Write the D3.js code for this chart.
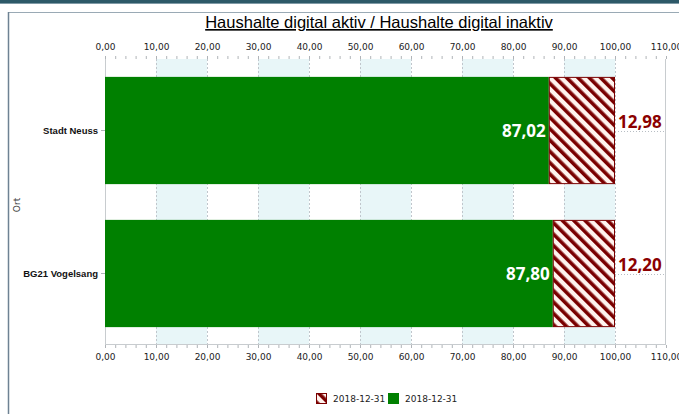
<!DOCTYPE html>
<html>
<head>
<meta charset="utf-8">
<script src="https://cdn.jsdelivr.net/npm/d3@7"></script>
<style>
	body { margin: 0; background: #ffffff; }
	svg { display: block; }
</style>
</head>
<body>
<svg id="chart" width="679" height="414"></svg>
<script>
// Chart data
var categories = ["Stadt Neuss", "BG21 Vogelsang"];
var aktiv = [87.02, 87.80];
var inaktiv = [12.98, 12.20];
var legend_labels = ["2018-12-31", "2018-12-31"];
var x_ticks = [0, 10, 20, 30, 40, 50, 60, 70, 80, 90, 100, 110];

var WIDTH = 679, HEIGHT = 414;
var margin = {left: 105, right: 13, top: 59, bottom: 69};
var GREEN = "#008000";
var DARK_RED = "#7a0000";

var svg = d3.select("#chart");

// Frame around the chart window
svg.append("rect").attr("x", 0).attr("y", 0).attr("width", WIDTH).attr("height", 3).attr("fill", "#2d5968");
svg.append("rect").attr("x", 0).attr("y", 3).attr("width", WIDTH).attr("height", 1).attr("fill", "#7f9aa6");
svg.append("line").attr("x1", 8).attr("x2", WIDTH).attr("y1", 12.5).attr("y2", 12.5)
	.attr("stroke", "#9aaab5").attr("stroke-width", 1);
svg.append("line").attr("x1", 8.5).attr("x2", 8.5).attr("y1", 12).attr("y2", HEIGHT)
	.attr("stroke", "#6e8293").attr("stroke-width", 1.5);

// Hatch pattern for the inactive series (stripes running top-left to bottom-right)
var defs = svg.append("defs");
var pat = defs.append("pattern")
	.attr("id", "hatch")
	.attr("patternUnits", "userSpaceOnUse")
	.attr("width", 8).attr("height", 8)
	.attr("patternTransform", "rotate(-45)");
pat.append("rect").attr("width", 8).attr("height", 8).attr("fill", "#fff3ee");
pat.append("rect").attr("x", 0).attr("y", 0).attr("width", 3.6).attr("height", 8).attr("fill", DARK_RED);

var x = d3.scaleLinear().domain([0, 110]).range([margin.left, WIDTH - margin.right]);
var y = d3.scaleBand().domain(categories).range([margin.top, HEIGHT - margin.bottom]).paddingInner(0.25).paddingOuter(0.125);

var plot_top = margin.top, plot_bottom = HEIGHT - margin.bottom;

// Alternating background bands
var bands = d3.range(10, 100, 20);
svg.append("g").selectAll("rect").data(bands).enter().append("rect")
	.attr("x", function(d) { return x(d); })
	.attr("width", function(d) { return x(d + 10) - x(d); })
	.attr("y", plot_top).attr("height", plot_bottom - plot_top)
	.attr("fill", "#e8f6f8");

// Vertical grid lines
svg.append("g").selectAll("line").data(x_ticks.slice(1, -1)).enter().append("line")
	.attr("x1", function(d) { return Math.round(x(d)) + 0.5; })
	.attr("x2", function(d) { return Math.round(x(d)) + 0.5; })
	.attr("y1", plot_top).attr("y2", plot_bottom)
	.attr("stroke", "#c0c6cc").attr("stroke-dasharray", "2,2");

// Horizontal dotted lines at category centers
svg.append("g").selectAll("line").data(categories).enter().append("line")
	.attr("x1", x(0)).attr("x2", x(110))
	.attr("y1", function(d) { return Math.round(y(d) + y.bandwidth() / 2) + 0.5; })
	.attr("y2", function(d) { return Math.round(y(d) + y.bandwidth() / 2) + 0.5; })
	.attr("stroke", "#b8bec4").attr("stroke-dasharray", "1,2");

// Plot border lines
svg.append("line").attr("x1", Math.round(x(0)) + 0.5).attr("x2", Math.round(x(0)) + 0.5)
	.attr("y1", plot_top).attr("y2", plot_bottom).attr("stroke", "#c8cccf");
svg.append("line").attr("x1", Math.round(x(110)) - 0.5).attr("x2", Math.round(x(110)) - 0.5)
	.attr("y1", plot_top).attr("y2", plot_bottom).attr("stroke", "#c8cccf");
svg.append("line").attr("x1", x(0)).attr("x2", x(110))
	.attr("y1", plot_bottom - 0.5).attr("y2", plot_bottom - 0.5).attr("stroke", "#c8cccf");

// Axes
function style_axis(g)
{
	g.select(".domain").remove();
	g.selectAll("text").attr("font-family", "DejaVu Sans, Verdana, sans-serif").attr("font-size", "9px").attr("fill", "#222");
	g.selectAll("line").attr("stroke", "#b0b4b8");
}
var fmt = function(d) { return d3.format(".2f")(d).replace(".", ","); };
var minor = d3.range(0, 110.1, 2);

svg.append("g").attr("transform", "translate(0," + plot_top + ")")
	.call(d3.axisTop(x).tickValues(minor).tickSize(3).tickFormat(""))
	.call(style_axis);
svg.append("g").attr("transform", "translate(0," + plot_top + ")")
	.call(d3.axisTop(x).tickValues(x_ticks).tickSize(3).tickPadding(6).tickFormat(fmt))
	.call(style_axis);
svg.append("g").attr("transform", "translate(0," + plot_bottom + ")")
	.call(d3.axisBottom(x).tickValues(minor).tickSize(3).tickFormat(""))
	.call(style_axis);
svg.append("g").attr("transform", "translate(0," + plot_bottom + ")")
	.call(d3.axisBottom(x).tickValues(x_ticks).tickSize(3).tickPadding(6).tickFormat(fmt))
	.call(style_axis);

var y_axis = svg.append("g").attr("transform", "translate(" + x(0) + ",0)")
	.call(d3.axisLeft(y).tickSize(4).tickPadding(3))
	.call(style_axis);
y_axis.selectAll("text").attr("font-family", "Liberation Sans, Arial, sans-serif")
	.attr("font-weight", "bold").attr("font-size", "9.5px").attr("fill", "#111");

// Bars
var rows = categories.map(function(c, i) { return {cat: c, a: aktiv[i], b: inaktiv[i]}; });
var bars = svg.append("g");
bars.selectAll("rect.aktiv").data(rows).enter().append("rect")
	.attr("class", "aktiv")
	.attr("x", x(0))
	.attr("y", function(d) { return y(d.cat); })
	.attr("width", function(d) { return x(d.a) - x(0); })
	.attr("height", y.bandwidth())
	.attr("fill", GREEN);
bars.selectAll("rect.inaktiv").data(rows).enter().append("rect")
	.attr("class", "inaktiv")
	.attr("x", function(d) { return x(d.a) + 0.5; })
	.attr("y", function(d) { return y(d.cat) + 0.5; })
	.attr("width", function(d) { return x(d.a + d.b) - x(d.a) - 1; })
	.attr("height", y.bandwidth() - 1)
	.attr("fill", "url(#hatch)")
	.attr("stroke", DARK_RED).attr("stroke-width", 1);

// Value labels
bars.selectAll("text.aktiv").data(rows).enter().append("text")
	.attr("x", function(d) { return x(d.a) - 3; })
	.attr("y", function(d) { return y(d.cat) + y.bandwidth() / 2 + 6; })
	.attr("text-anchor", "end")
	.attr("font-family", "Noto Sans, sans-serif").attr("font-weight", "bold").attr("font-size", "17px")
	.attr("fill", "#ffffff")
	.text(function(d) { return fmt(d.a); });
bars.selectAll("text.inaktiv").data(rows).enter().append("text")
	.attr("x", function(d) { return x(d.a + d.b) + 3; })
	.attr("y", function(d) { return y(d.cat) + y.bandwidth() / 2 - 3; })
	.attr("font-family", "Noto Sans, sans-serif").attr("font-weight", "bold").attr("font-size", "17px")
	.attr("fill", "#8b0000")
	.text(function(d) { return fmt(d.b); });

// Title
svg.append("text")
	.attr("x", 379).attr("y", 28)
	.attr("text-anchor", "middle")
	.attr("font-family", "Liberation Sans, Arial, sans-serif").attr("font-size", "16.5px")
	.attr("text-decoration", "underline")
	.attr("fill", "#000")
	.text("Haushalte digital aktiv / Haushalte digital inaktiv");

// Y axis title
svg.append("text")
	.attr("transform", "translate(20,205) rotate(-90)")
	.attr("text-anchor", "middle")
	.attr("font-family", "DejaVu Sans, Verdana, sans-serif").attr("font-size", "9px")
	.attr("fill", "#444")
	.text("Ort");

// Legend
var legend_items = [{fill: "url(#hatch)", stroke: DARK_RED, label: legend_labels[0], x: 316},
	{fill: GREEN, stroke: GREEN, label: legend_labels[1], x: 388}];
var legend = svg.append("g").selectAll("g").data(legend_items).enter().append("g")
	.attr("transform", function(d) { return "translate(" + d.x + ",393)"; });
legend.append("rect").attr("x", 0.5).attr("y", 0.5).attr("width", 10).attr("height", 10)
	.attr("fill", function(d) { return d.fill; }).attr("stroke", function(d) { return d.stroke; });
legend.append("text").attr("x", 17).attr("y", 9)
	.attr("font-family", "DejaVu Sans, Verdana, sans-serif").attr("font-size", "9px").attr("fill", "#222")
	.text(function(d) { return d.label; });
</script>
</body>
</html>
